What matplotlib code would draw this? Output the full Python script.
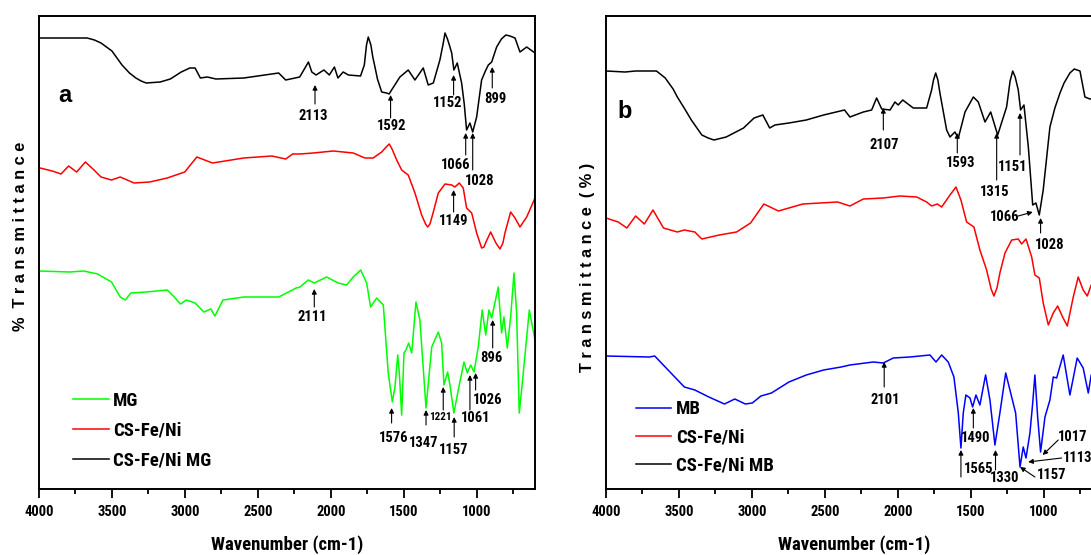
import matplotlib
matplotlib.use("Agg")
import matplotlib.pyplot as plt
from matplotlib import font_manager as fm
from matplotlib.lines import Line2D
from matplotlib.ticker import MultipleLocator

# ---------------- data (wavenumber cm-1, transmittance in arbitrary offset units) ----------------
# Panel a : CS-Fe/Ni MG (black)
a_mg_wn = [3993, 3670, 3620, 3575, 3500, 3431, 3380, 3336, 3300, 3265, 3169, 3100, 3025, 2966, 2930,
           2894, 2846, 2787, 2596, 2357, 2309, 2213, 2153, 2130, 2101, 2047, 2010, 1975, 1951, 1915,
           1879, 1796, 1770, 1755, 1743, 1725, 1712, 1697, 1680, 1651, 1617, 1600, 1583, 1526, 1469,
           1423, 1366, 1332, 1297, 1252, 1230, 1217, 1200, 1185, 1171, 1156, 1133, 1103, 1085, 1069,
           1046, 1027, 1000, 966, 940, 920, 897, 863, 830, 800, 772, 737, 703, 657, 600]
a_mg_t = [451, 451, 449, 446, 438, 424, 416, 411, 408, 406, 407, 410, 417, 421, 421,
          411, 412, 410, 411, 416, 409, 412, 427, 417, 414, 419, 414, 422, 411, 417,
          414, 413, 424, 444, 452, 444, 432, 422, 410, 397, 396, 395, 399, 412, 419,
          409, 421, 404, 406, 429, 445, 456, 450, 443, 436, 419, 426, 406, 385, 359,
          366, 357, 372, 409, 418, 424, 427, 442, 450, 454, 453, 451, 437, 442, 436]

# Panel a : CS-Fe/Ni (red)
a_cs_wn = [3993, 3909, 3849, 3797, 3742, 3682, 3623, 3575, 3503, 3443, 3348, 3241, 3121, 3001, 2918,
           2811, 2596, 2404, 2309, 2261, 2211, 2120, 1983, 1846, 1766, 1709, 1651, 1620, 1599, 1580,
           1548, 1514, 1469, 1423, 1377, 1350, 1336, 1320, 1297, 1263, 1217, 1171, 1149, 1119, 1092,
           1069, 1034, 1000, 966, 950, 936, 904, 868, 840, 820, 806, 767, 737, 703, 657, 600]
a_cs_t = [321, 318, 315, 323, 317, 327, 319, 312, 309, 312, 306, 307, 311, 317, 332,
          326, 331, 333, 330, 335, 335, 336, 338, 336, 331, 331, 337, 342, 345, 340,
          329, 319, 314, 296, 274, 265, 262, 265, 277, 296, 305, 304, 302, 306, 301,
          281, 276, 256, 241, 242, 247, 257, 246, 240, 246, 256, 277, 271, 262, 272, 291]

# Panel a : MG dye (green)
a_dye_wn = [4000, 3790, 3694, 3598, 3503, 3443, 3408, 3371, 3265, 3121, 3073, 3030, 2990, 2930, 2870,
            2822, 2794, 2739, 2596, 2357, 2237, 2211, 2154, 2113, 2028, 1949, 1891, 1846, 1795, 1754,
            1727, 1685, 1640, 1606, 1578, 1560, 1541, 1530, 1514, 1498, 1485, 1466, 1445, 1416, 1389,
            1347, 1308, 1263, 1240, 1224, 1199, 1183, 1156, 1126, 1087, 1064, 1041, 1018, 989, 962,
            938, 916, 897, 852, 829, 813, 790, 767, 744, 726, 708, 685, 639, 600]
a_dye_t = [218, 217, 218, 215, 207, 192, 189, 196, 197, 199, 192, 185, 189, 186, 177,
           180, 173, 189, 192, 192, 201, 202, 209, 206, 212, 206, 204, 212, 219, 206,
           182, 191, 184, 116, 87, 102, 134, 116, 74, 136, 139, 146, 136, 187, 169,
           81, 142, 157, 146, 104, 117, 104, 76, 99, 127, 116, 124, 117, 142, 179,
           154, 179, 171, 202, 156, 172, 141, 172, 216, 176, 76, 109, 179, 149]

# Panel b : CS-Fe/Ni MB (black)
b_mb_wn = [4000, 3869, 3797, 3654, 3594, 3540, 3511, 3460, 3415, 3343, 3300, 3260, 3176, 3057, 2985,
           2925, 2878, 2842, 2746, 2627, 2508, 2365, 2328, 2236, 2179, 2145, 2110, 2053, 2019, 1997,
           1966, 1894, 1802, 1768, 1755, 1740, 1725, 1711, 1665, 1642, 1608, 1585, 1539, 1482, 1448,
           1402, 1363, 1315, 1254, 1230, 1212, 1195, 1174, 1158, 1135, 1105, 1075, 1053, 1030, 1003,
           957, 923, 888, 860, 820, 790, 751, 717, 683, 600]
b_mb_t = [418, 417, 418, 418, 411, 400, 392, 380, 369, 354, 351, 349, 352, 361, 371,
          374, 361, 364, 366, 369, 374, 379, 372, 377, 379, 391, 380, 379, 387, 384,
          389, 381, 381, 399, 409, 416, 409, 396, 359, 352, 357, 351, 377, 392, 387,
          367, 377, 354, 382, 408, 418, 412, 399, 379, 384, 342, 284, 286, 274, 299,
          362, 381, 396, 406, 416, 420, 418, 392, 390, 392]

# Panel b : CS-Fe/Ni (red)
b_cs_wn = [4000, 3916, 3857, 3797, 3737, 3678, 3606, 3511, 3463, 3391, 3343, 3224, 3105, 3009, 2918,
           2818, 2651, 2412, 2328, 2236, 2099, 1985, 1870, 1802, 1768, 1729, 1699, 1642, 1601, 1567,
           1528, 1478, 1437, 1391, 1360, 1341, 1320, 1300, 1265, 1219, 1174, 1151, 1121, 1082, 1060,
           1030, 1003, 968, 934, 904, 870, 838, 797, 763, 729, 701, 674, 600]
b_cs_t = [271, 267, 261, 273, 265, 279, 261, 257, 259, 257, 250, 254, 257, 266, 285,
          278, 285, 287, 283, 290, 291, 293, 292, 287, 283, 285, 282, 294, 302, 289,
          267, 262, 239, 219, 200, 193, 201, 216, 236, 249, 250, 245, 250, 232, 214,
          211, 186, 164, 176, 183, 172, 163, 192, 212, 199, 193, 204, 215]

# Panel b : MB dye (blue)
b_dye_wn = [4000, 3702, 3666, 3594, 3463, 3391, 3295, 3188, 3117, 3045, 2997, 2938, 2866, 2746, 2627,
            2508, 2388, 2328, 2168, 2099, 2031, 1916, 1779, 1738, 1699, 1654, 1615, 1585, 1567, 1551,
            1533, 1505, 1487, 1464, 1437, 1398, 1368, 1334, 1300, 1260, 1226, 1192, 1162, 1140, 1121,
            1094, 1075, 1060, 1041, 1021, 991, 957, 934, 911, 866, 820, 770, 729, 694, 674, 600]
b_dye_t = [133, 132, 133, 122, 102, 99, 92, 85, 90, 85, 86, 93, 96, 107, 114,
           119, 122, 124, 127, 126, 131, 132, 134, 127, 134, 127, 112, 76, 41, 76,
           94, 91, 82, 94, 84, 114, 89, 44, 76, 116, 96, 76, 22, 42, 31,
           56, 86, 114, 72, 37, 72, 89, 112, 111, 134, 94, 131, 121, 96, 114, 125]

series_labels_a = ["MG", "CS-Fe/Ni", "CS-Fe/Ni MG"]
series_labels_b = ["MB", "CS-Fe/Ni", "CS-Fe/Ni MB"]
x_major_ticks = [4000, 3500, 3000, 2500, 2000, 1500, 1000]

# peak annotations: (label, tip wn, tip T, tail wn, tail T, text wn, text T, ha, size)
peaks_a = [
    ("2113", 2108, 404, 2108, 385, 2120, 373, "center", 10.5),
    ("1592", 1590, 394, 1590, 371, 1583, 363, "center", 10.5),
    ("1152", 1158, 414, 1158, 394, 1199, 386, "center", 10.5),
    ("899", 893, 422, 893, 401, 874, 390, "center", 10.5),
    ("1066", 1075, 356, 1075, 334, 1142, 324, "center", 10.5),
    ("1028", 1027, 356, 1027, 319, 977, 308, "center", 10.5),
    ("1149", 1158, 299, 1158, 277, 1156, 268, "center", 10.5),
    ("2111", 2113, 200, 2113, 182, 2124, 172, "center", 10.5),
    ("1576", 1583, 81, 1583, 66, 1572, 51, "center", 10.5),
    ("1347", 1347, 79, 1347, 64, 1366, 46, "center", 10.5),
    ("1221", 1229, 102, 1229, 79, 1252, 72, "center", 8),
    ("1157", 1154, 72, 1154, 52, 1156, 39, "center", 10.5),
    ("1061", 1046, 114, 1046, 79, 1007, 71, "center", 10.5),
    ("1026", 1007, 116, 1007, 99, 927, 89, "center", 10.5),
    ("896", 890, 169, 890, 141, 897, 131, "center", 10.5),
]
peaks_b = [
    ("2107", 2099, 381, 2099, 359, 2093, 344, "center", 10.5),
    ("1593", 1592, 356, 1592, 336, 1567, 326, "center", 10.5),
    ("1315", 1322, 356, 1322, 309, 1334, 297, "center", 10.5),
    ("1151", 1162, 376, 1162, 334, 1212, 322, "center", 10.5),
    ("1066", 1075, 277, 1174, 273, 1265, 272, "center", 10.5),
    ("1028", 1021, 271, 1021, 256, 962, 244, "center", 10.5),
    ("2101", 2093, 127, 2093, 102, 2088, 89, "center", 10.5),
    ("1490", 1482, 81, 1482, 61, 1464, 51, "center", 10.5),
    ("1565", 1567, 39, 1567, 12, 1546, 20, "left", 10.5),
    ("1330", 1330, 39, 1330, 19, 1265, 11, "center", 10.5),
    ("1157", 1162, 22, 1060, 12, 1048, 14, "left", 10.5),
    ("1113", 1106, 27, 877, 31, 867, 31, "left", 10.5),
    ("1017", 1007, 34, 900, 49, 902, 52, "left", 10.5),
]

# ---------------- fonts ----------------
installed = {f.name for f in fm.fontManager.ttflist}
NARROW = next((n for n in ["Liberation Sans Narrow", "Roboto Condensed", "DejaVu Sans"] if n in installed), "DejaVu Sans")
WIDE = next((n for n in ["Liberation Sans", "Arial", "DejaVu Sans"] if n in installed), "DejaVu Sans")

# ---------------- figure ----------------
W, H = 1091, 555
fig = plt.figure(figsize=(W / 100, H / 100), dpi=100)
axa = fig.add_axes([39 / W, 1 - 489 / H, 496 / W, 473 / H])
axb = fig.add_axes([606 / W, 1 - 489 / H, 496 / W, 473 / H])

GREEN, RED, BLACK, BLUE = "#00ff00", "#ff0000", "#000000", "#0000ff"


def style(ax):
    ax.set_xlim(4000, 600)
    ax.set_ylim(0, 473)
    ax.set_yticks([])
    ax.set_xticks(x_major_ticks)
    ax.xaxis.set_minor_locator(MultipleLocator(250))
    ax.tick_params(axis="x", which="major", direction="out", length=6.5, width=1.3, pad=5)
    ax.tick_params(axis="x", which="minor", direction="out", length=3.6, width=1.3)
    for lab in ax.get_xticklabels():
        lab.set_fontfamily(NARROW)
        lab.set_fontweight("bold")
        lab.set_fontsize(10.5)
    for s in ax.spines.values():
        s.set_linewidth(1.4)
    ax.set_xlabel("Wavenumber (cm-1)", fontfamily=NARROW, fontweight="bold", fontsize=13.5)
    ax.xaxis.set_label_coords(0.5, -0.098)


def mark(ax, spec):
    label, wt, ht, wa, ha_, wx, hx, align, size = spec
    ax.annotate("", xy=(wt, ht), xytext=(wa, ha_),
                arrowprops=dict(arrowstyle="-|>", color="k", lw=0.8, mutation_scale=7,
                                shrinkA=0, shrinkB=0))
    ax.text(wx, hx, label, ha=align, va="center", fontfamily=NARROW, fontweight="bold",
            fontsize=size)


# panel a
axa.plot(a_dye_wn, a_dye_t, color=GREEN, lw=1.1)
axa.plot(a_cs_wn, a_cs_t, color=RED, lw=1.1)
axa.plot(a_mg_wn, a_mg_t, color=BLACK, lw=1.1)
style(axa)
for spec in peaks_a:
    mark(axa, spec)
axa.text(3822, 394, "a", fontfamily=WIDE, fontweight="bold", fontsize=17, ha="center", va="center")
axa.set_ylabel("%  T r a n s m i t t a n c e", fontfamily=WIDE, fontweight="bold", fontsize=11.8,
               va="center")
axa.yaxis.set_label_coords(-0.038, 0.535)
handles_a = [Line2D([], [], color=c, lw=1.1) for c in (GREEN, RED, BLACK)]
axa.legend(handles_a, series_labels_a, loc="upper left", bbox_to_anchor=(0.0685, 0.205),
           frameon=False, borderpad=0, borderaxespad=0, handlelength=1.9, handletextpad=0.25,
           labelspacing=0.62, prop=dict(family=NARROW, weight="bold", size=13.5))

# panel b
axb.plot(b_dye_wn, b_dye_t, color=BLUE, lw=1.1)
axb.plot(b_cs_wn, b_cs_t, color=RED, lw=1.1)
axb.plot(b_mb_wn, b_mb_t, color=BLACK, lw=1.1)
style(axb)
for spec in peaks_b:
    mark(axb, spec)
axb.text(3870, 378, "b", fontfamily=WIDE, fontweight="bold", fontsize=17, ha="center", va="center")
axb.set_ylabel("T r a n s m i t t a n c e  ( % )", fontfamily=WIDE, fontweight="bold", fontsize=11.8,
               va="center")
axb.yaxis.set_label_coords(-0.038, 0.469)
handles_b = [Line2D([], [], color=c, lw=1.1) for c in (BLUE, RED, BLACK)]
axb.legend(handles_b, series_labels_b, loc="upper left", bbox_to_anchor=(0.0597, 0.188),
           frameon=False, borderpad=0, borderaxespad=0, handlelength=1.9, handletextpad=0.25,
           labelspacing=0.55, prop=dict(family=NARROW, weight="bold", size=13.5))

fig.savefig("out.png", dpi=100)
